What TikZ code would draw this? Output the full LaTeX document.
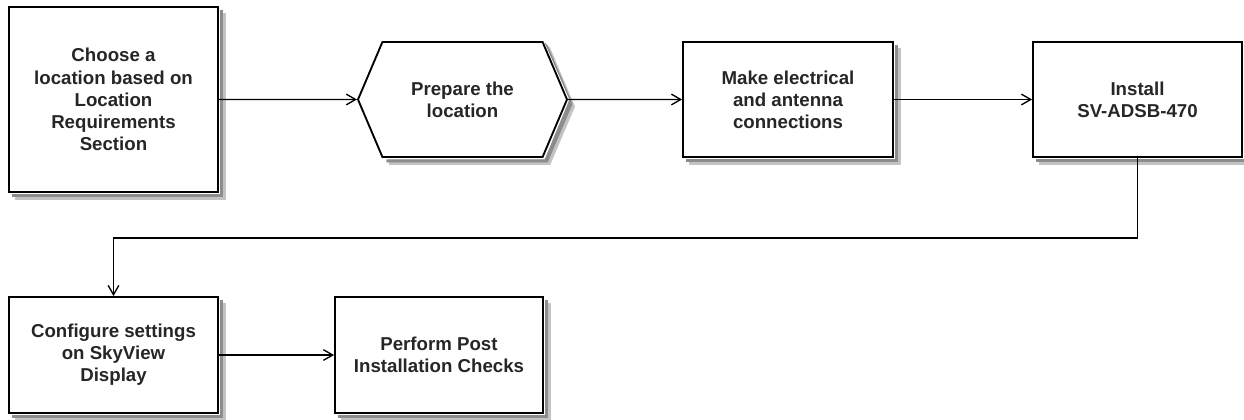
\documentclass[tikz,border=0pt]{standalone}
\usepackage{fontspec}
\setmainfont{Liberation Sans}
\usetikzlibrary{arrows.meta,shapes.symbols}
\definecolor{shadowgray}{RGB}{140,140,140}
\definecolor{shadowlight}{RGB}{195,195,195}
\begin{document}
\begin{tikzpicture}[x=0.75pt,y=-0.75pt,
  every node/.style={font=\bfseries\fontsize{14pt}{16.6pt}\selectfont, align=center, text=black!85},
  box/.style={draw, line width=1.4pt, fill=white, rectangle, inner sep=0pt},
  hexa/.style={draw, line width=1.4pt, fill=white, signal, signal to=east and west,
     signal pointer angle=134, inner sep=0pt},
  shadowin/.style={fill=shadowgray},
  shadowout/.style={fill=shadowlight},
  flow/.style={line width=1.1pt, -{Straight Barb[length=7pt,width=8pt,line width=1pt]}}]
\useasboundingbox (0,0) rectangle (1244,419);
\node[box, minimum width=209*0.75pt, minimum height=185*0.75pt] (b1) at (113.5,99.5)
  {Choose a\\location based on\\Location\\Requirements\\Section};
\node[hexa, minimum width=209*0.75pt, minimum height=115*0.75pt] (b2) at (462.5,99.5)
  {Prepare the\\location};
\node[box, minimum width=210*0.75pt, minimum height=115*0.75pt] (b3) at (788,99.5)
  {Make electrical\\and antenna\\connections};
\node[box, minimum width=209*0.75pt, minimum height=115*0.75pt] (b4) at (1137.5,99.5)
  {Install\\SV-ADSB-470};
\node[box, minimum width=209*0.75pt, minimum height=116*0.75pt] (b5) at (113.5,355)
  {Configure settings\\on SkyView\\Display};
\node[box, minimum width=208*0.75pt, minimum height=116*0.75pt] (b6) at (439,355)
  {Perform Post\\Installation Checks};
% drop shadows: L-shaped strips right of and below each box
\foreach \n in {b1,b3,b4,b5,b6} {
  \fill[shadowout] ([shift={(1.5,7)}]\n.north east) rectangle ([shift={(7,7)}]\n.south east);
  \fill[shadowout] ([shift={(7,1.5)}]\n.south west) rectangle ([shift={(7,7)}]\n.south east);
  \fill[shadowin] ([shift={(1.5,4)}]\n.north east) rectangle ([shift={(4.5,4.5)}]\n.south east);
  \fill[shadowin] ([shift={(4,1.5)}]\n.south west) rectangle ([shift={(4.5,4.5)}]\n.south east);
}
\fill[shadowout] ([shift={(1.5,1.5)}]b2.north east) -- ([shift={(7,7)}]b2.north east)
  -- ([shift={(7,7)}]b2.east) -- ([shift={(7,7)}]b2.south east) -- ([shift={(7,7)}]b2.south west)
  -- ([shift={(7,1.5)}]b2.south west) -- ([shift={(1.5,1.5)}]b2.south east) -- ([shift={(1.5,0)}]b2.east) -- cycle;
\fill[shadowin] ([shift={(1.5,1.5)}]b2.north east) -- ([shift={(4.5,4.5)}]b2.north east)
  -- ([shift={(4.5,4.5)}]b2.east) -- ([shift={(4.5,4.5)}]b2.south east) -- ([shift={(4.5,4.5)}]b2.south west)
  -- ([shift={(4.5,1.5)}]b2.south west) -- ([shift={(1.5,1.5)}]b2.south east) -- ([shift={(1.5,0)}]b2.east) -- cycle;
\coordinate (turn) at (600,238);
\draw[flow] (b1) -- (b2);
\draw[flow] (b2) -- (b3);
\draw[flow] (b3) -- (b4);
\draw[flow] (b4.south) |- (turn) -| (b5.north);
\draw[flow] (b5) -- (b6);
\end{tikzpicture}
\end{document}
